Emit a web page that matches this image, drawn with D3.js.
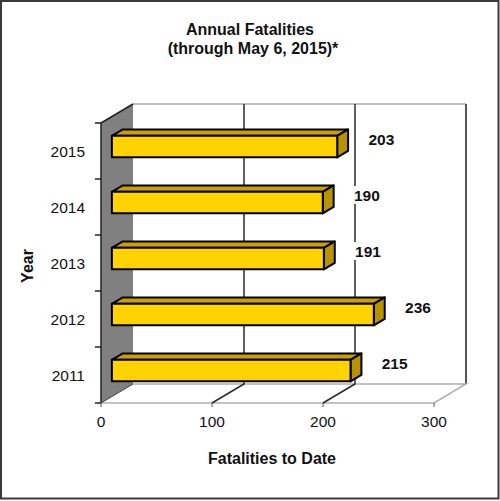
<!DOCTYPE html>
<html>
<head>
<meta charset="utf-8">
<script src="https://cdn.jsdelivr.net/npm/d3@7"></script>
<style>
  body { margin: 0; background: #fff; }
  svg text { font-family: "Liberation Sans", Arial, sans-serif; fill: #111; }
  .bold { font-weight: bold; }
</style>
</head>
<body>
<div id="chart"></div>
<script>
'use strict';
// Data.
var years = ['2015', '2014', '2013', '2012', '2011'];
var fatalities = [203, 190, 191, 236, 215];
var xTicks = [0, 100, 200, 300];

var width = 500, height = 501;
var svg = d3.select('#chart').append('svg')
    .attr('width', width)
    .attr('height', height);

// Outer frame.
svg.append('rect')
    .attr('x', 1).attr('y', 1)
    .attr('width', 497.5).attr('height', 497.5)
    .attr('fill', '#fff')
    .attr('stroke', '#3a3a3a')
    .attr('stroke-width', 2);

// Front plane scales, plus the depth offset for the back wall.
var xScale = d3.scaleLinear().domain([0, 300]).range([101, 434]);
var yScale = d3.scaleBand().domain(years).range([123, 403]);
var depth = {dx: 32, dy: -19};
function proj(v, y, z) {
    return [xScale(v) + depth.dx * z, y + depth.dy * z];
}
function pts(list) {
    return list.map(function(p) { return p.join(','); }).join(' ');
}
var top0 = yScale.range()[0], bot0 = yScale.range()[1];

// Back wall.
var bw0 = proj(0, top0, 1), bw1 = proj(300, bot0, 1);
svg.append('rect')
    .attr('x', bw0[0]).attr('y', bw0[1])
    .attr('width', bw1[0] - bw0[0]).attr('height', bw1[1] - bw0[1])
    .attr('fill', '#fff');
svg.append('line')
    .attr('x1', bw0[0]).attr('y1', bw0[1]).attr('x2', bw1[0]).attr('y2', bw0[1])
    .attr('stroke', '#a8a8a8').attr('stroke-width', 1.5);
svg.append('line')
    .attr('x1', bw1[0]).attr('y1', bw0[1]).attr('x2', bw1[0]).attr('y2', bw1[1])
    .attr('stroke', '#555').attr('stroke-width', 2);

// Floor edges.
svg.append('polyline')
    .attr('points', pts([proj(0, bot0, 0), proj(300, bot0, 0), proj(300, bot0, 1), proj(0, bot0, 1)]))
    .attr('fill', 'none')
    .attr('stroke', '#b0b0b0')
    .attr('stroke-width', 1.5);

// Gridlines: back wall verticals and floor diagonals.
xTicks.filter(function(t) { return t > 0 && t < 300; }).forEach(function(t) {
    svg.append('polyline')
        .attr('points', pts([proj(t, top0, 1), proj(t, bot0, 1), proj(t, bot0, 0)]))
        .attr('fill', 'none')
        .attr('stroke', '#2a2a2a')
        .attr('stroke-width', 1.5);
});

// Left wall.
var lw = [proj(0, top0, 0), proj(0, top0, 1), proj(0, bot0, 1), proj(0, bot0, 0)];
svg.append('polygon')
    .attr('points', pts(lw))
    .attr('fill', '#808080');
svg.append('polyline')
    .attr('points', pts([lw[3], lw[0], lw[1]]))
    .attr('fill', 'none')
    .attr('stroke', '#222')
    .attr('stroke-width', 1.5);
svg.append('line')
    .attr('x1', lw[3][0]).attr('y1', lw[3][1]).attr('x2', lw[2][0]).attr('y2', lw[2][1])
    .attr('stroke', '#444').attr('stroke-width', 1);

// Y ticks at band edges.
var bandEdges = years.map(function(y) { return yScale(y); }).concat([bot0]);
svg.selectAll('line.ytick')
    .data(bandEdges)
    .enter()
    .append('line')
    .attr('x1', xScale(0) - 6).attr('x2', xScale(0))
    .attr('y1', function(d) { return d; })
    .attr('y2', function(d) { return d; })
    .attr('stroke', '#222').attr('stroke-width', 1.5);

// X ticks.
svg.selectAll('line.xtick')
    .data(xTicks)
    .enter()
    .append('line')
    .attr('x1', function(d) { return xScale(d); })
    .attr('x2', function(d) { return xScale(d); })
    .attr('y1', bot0).attr('y2', bot0 + 4)
    .attr('stroke', '#555').attr('stroke-width', 1);

// Bars with top and side faces.
var zFront = 0.34, zBack = 0.68;
var bw = yScale.bandwidth();
var data = years.map(function(y, i) { return {year: y, value: fatalities[i]}; });
var bars = svg.selectAll('g.bar')
    .data(data)
    .enter()
    .append('g')
    .attr('class', 'bar');

function face(d, which) {
    var yt = yScale(d.year) + bw * 0.345, yb = yt + bw * 0.384;
    var a = proj(0, yt, zFront), b = proj(d.value, yt, zFront),
        c = proj(d.value, yb, zFront), e = proj(0, yb, zFront);
    var b2 = proj(d.value, yt, zBack), a2 = proj(0, yt, zBack), c2 = proj(d.value, yb, zBack);
    if (which === 'front') return pts([a, b, c, e]);
    if (which === 'top') return pts([a, b, b2, a2]);
    return pts([b, b2, c2, c]);
}
bars.append('polygon')
    .attr('points', function(d) { return face(d, 'top'); })
    .attr('fill', '#c9a000').attr('stroke', '#000').attr('stroke-width', 2)
    .attr('stroke-linejoin', 'round');
bars.append('polygon')
    .attr('points', function(d) { return face(d, 'side'); })
    .attr('fill', '#b89300').attr('stroke', '#000').attr('stroke-width', 2)
    .attr('stroke-linejoin', 'round');
bars.append('polygon')
    .attr('points', function(d) { return face(d, 'front'); })
    .attr('fill', '#ffd200').attr('stroke', '#000').attr('stroke-width', 2)
    .attr('stroke-linejoin', 'round');

// Value labels, with white boxes that break the gridlines.
var labels = svg.selectAll('g.vlabel')
    .data(data)
    .enter()
    .append('g')
    .attr('class', 'vlabel')
    .attr('transform', function(d) {
        return 'translate(' + (xScale(d.value) + 55) + ',' + (yScale(d.year) + bw / 2 - 12) + ')';
    });
labels.append('rect')
    .attr('x', -15).attr('y', -9).attr('width', 30).attr('height', 18)
    .attr('fill', '#fff');
labels.append('text')
    .attr('class', 'bold')
    .attr('text-anchor', 'middle')
    .attr('dy', '0.36em')
    .attr('font-size', 15.5)
    .text(function(d) { return d.value; });

// Category labels.
svg.selectAll('text.ylab')
    .data(years)
    .enter()
    .append('text')
    .attr('x', 85)
    .attr('y', function(d) { return yScale(d) + bw / 2; })
    .attr('dy', '0.36em')
    .attr('text-anchor', 'end')
    .attr('font-size', 15.5)
    .text(function(d) { return d; });

// Value axis labels.
svg.selectAll('text.xlab')
    .data(xTicks)
    .enter()
    .append('text')
    .attr('x', function(d) { return xScale(d); })
    .attr('y', 427)
    .attr('text-anchor', 'middle')
    .attr('font-size', 15.5)
    .text(function(d) { return d; });

// Titles.
svg.append('text').attr('class', 'bold')
    .attr('x', 250).attr('y', 35).attr('text-anchor', 'middle').attr('font-size', 16)
    .text('Annual Fatalities');
svg.append('text').attr('class', 'bold')
    .attr('x', 253).attr('y', 53.5).attr('text-anchor', 'middle').attr('font-size', 16)
    .text('(through May 6, 2015)*');
svg.append('text').attr('class', 'bold')
    .attr('x', 272).attr('y', 464).attr('text-anchor', 'middle').attr('font-size', 16)
    .text('Fatalities to Date');
svg.append('text').attr('class', 'bold')
    .attr('transform', 'translate(33,266) rotate(-90)')
    .attr('text-anchor', 'middle').attr('font-size', 16)
    .text('Year');
</script>
</body>
</html>
